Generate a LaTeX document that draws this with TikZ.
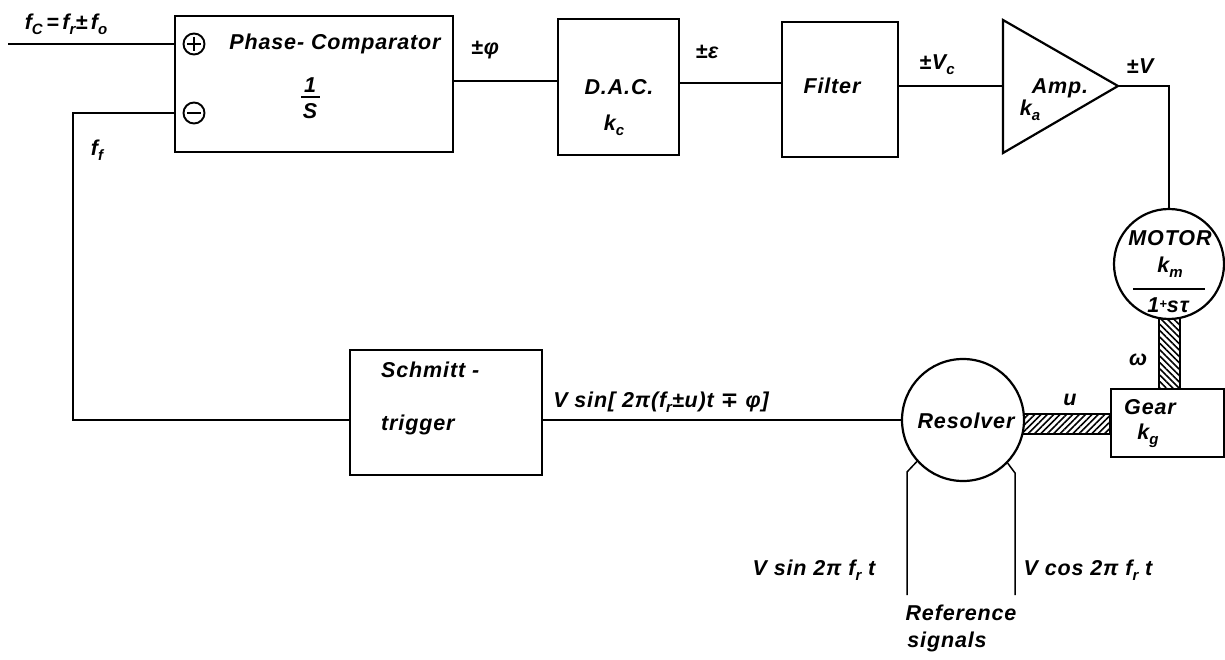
\documentclass[tikz,border=0pt]{standalone}
\usepackage{fontspec}
\newfontfamily\lf{Liberation Sans}[LetterSpace=4]
\newfontfamily\djf{DejaVu Sans}
\usetikzlibrary{patterns.meta,backgrounds}
\newcommand{\sbs}[1]{\raisebox{-0.45ex}{\fontsize{15}{15}\selectfont #1}}
\begin{document}
\begin{tikzpicture}[x=1pt,y=-1pt,
  every node/.style={font=\lf\bfseries\itshape\fontsize{21.5}{24}\selectfont, inner sep=0pt},
  blk/.style={draw, line width=2.2pt, rectangle, fill=white},
  wire/.style={line width=1.5pt},
  rnd/.style={draw, circle, line width=2.2pt, fill=white},
  pm/.style={draw, circle, line width=1.9pt, minimum size=21pt},
  sign/.style={line width=1.9pt},
  shafth/.style={draw, line width=1.8pt, pattern={Lines[angle=45,distance=4.5pt,line width=1.6pt]}},
  shaftv/.style={draw, line width=1.8pt, pattern={Lines[angle=-45,distance=4.5pt,line width=1.6pt]}}]
\useasboundingbox (0,0) rectangle (1225,660);

% blocks
\node[blk, minimum width=278pt, minimum height=136pt] (pc) at (314,84) {};
\node[blk, minimum width=121pt, minimum height=136pt] (dac) at (618.5,87) {};
\node[blk, minimum width=116pt, minimum height=135pt] (flt) at (840,89.5) {};
\node[blk, minimum width=192pt, minimum height=125pt] (st) at (446,412.5) {};
\node[blk, minimum width=113pt, minimum height=68pt] (gear) at (1167.5,423) {};
\node[rnd, minimum size=110pt] (motor) at (1169,264) {};
\node[rnd, minimum size=122pt] (res) at (963,420) {};

% amplifier
\coordinate (ampin) at (1003,86);
\coordinate (ampout) at (1118,86);
\draw[line width=2.2pt, line join=miter] (1003,20) -- (ampout) -- (1003,153) -- cycle;

% plus / minus
\node[pm] (plus) at (194,44) {};
\node[pm] (minus) at (194,113) {};
\draw[sign] (plus.center) +(-7,0) -- +(7,0);
\draw[sign] (plus.center) +(0,-7) -- +(0,7);
\draw[sign] (minus.center) +(-7,0) -- +(7,0);

% texts in blocks
\node at (335,44) {Phase- Comparator};
\node at (310,85) {1};
\draw[line width=1.8pt] (301,97) -- (320,97);
\node at (310,111) {S};
\node at (619,87) {D.A.C.};
\node at (614,125) {k\sbs{c}};
\node at (832,86) {Filter};
\node at (1060,88) {Amp.};
\node at (1030,110) {k\sbs{a}};
\node at (1170,238) {MOTOR};
\node at (1170,267) {k\sbs{m}};
\draw[line width=1.6pt] (1133,289) -- (1205,289);
\node at (1168,305) {1{\fontsize{13}{13}\selectfont\raisebox{0.5ex}{+}}sτ};
\node at (1150,407) {Gear};
\node at (1148,436) {k\sbs{g}};
\node at (966,421) {Resolver};
\node[anchor=west] at (381,370) {Schmitt -};
\node[anchor=west] at (381,425) {trigger};

% connectors
\coordinate (cin) at (8,44);
\draw[wire] (cin) -- (cin -| pc.west);
\coordinate (fb) at (73,113);
\draw[wire] (pc.west |- minus) -- (fb) |- (st.west |- res.west);
\draw[wire] (pc.east |- 0,81) -- (dac.west |- 0,81);
\draw[wire] (dac.east |- 0,83) -- (flt.west |- 0,83);
\draw[wire] (flt.east |- ampin) -- (ampin);
\draw[wire] (ampout) -| (motor.north);
\draw[wire] (st.east |- res.west) -- (res.west);
\coordinate (rl) at (907,595);
\coordinate (rr) at (1015,595);
\draw[wire] (res.222) -- (907,472) -- (rl);
\draw[wire] (res.-44) -- (1015,473) -- (rr);

% labels
\node at (66,24) {f\sbs{C}\,=\,f\sbs{r}±\,f\sbs{o}};
\node at (97,150) {f\sbs{f}};
\node at (485,50) {±φ};
\node at (707,52) {±ε};
\node at (937,65) {±V\sbs{c}};
\node at (1140,66) {±V};
\node at (661,402) {V sin[ 2π(f\sbs{r}±u)t {\djf\bfseries∓} φ]};
\node at (1070,400) {u};
\node at (1138,360) {ω};
\node at (814,570) {V sin 2π f\sbs{r} t};
\node at (1088,570) {V cos 2π f\sbs{r} t};
\node at (961,613) {Reference};
\node at (947,642) {signals};

% background and shafts
\begin{scope}[on background layer]
\fill[white] (0,0) rectangle (1225,660);
\coordinate (h1) at (res.center |- 0,414);
\coordinate (h2) at (gear.west |- 0,434);
\coordinate (v1) at (1159,264);
\coordinate (v2) at (1180,389);
\draw[shafth] (h1) rectangle (h2);
\draw[shaftv] (v1) rectangle (v2);
\end{scope}
\end{tikzpicture}
\end{document}
